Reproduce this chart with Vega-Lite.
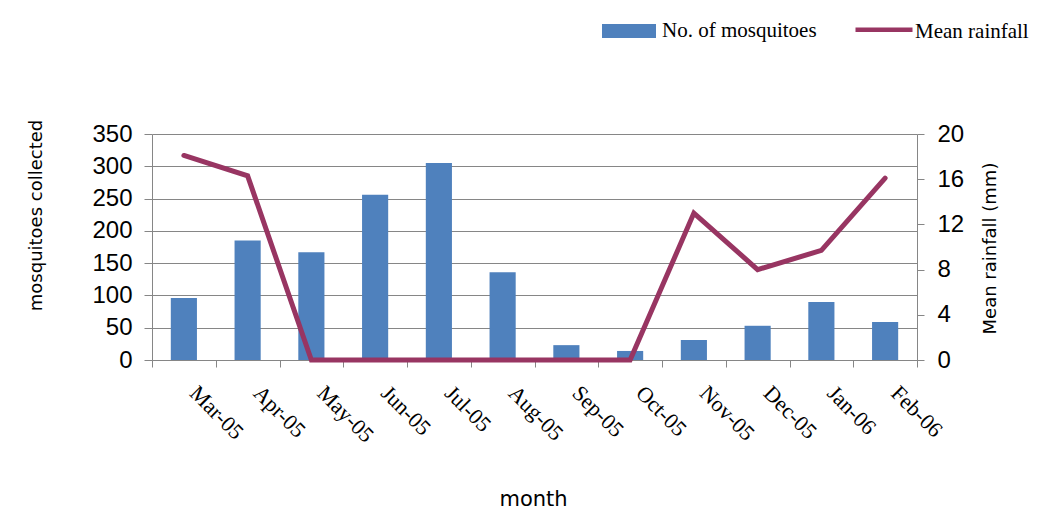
{
  "$schema": "https://vega.github.io/schema/vega-lite/v6.json",
  "width": 765,
  "height": 226,
  "autosize": {"type": "none"},
  "padding": {"left": 152, "top": 134, "right": 123, "bottom": 153},
  "background": "white",
  "config": {
    "view": {"stroke": null},
    "axis": {
      "domainColor": "#868686",
      "tickColor": "#868686",
      "gridColor": "#868686",
      "gridOpacity": 1,
      "domainWidth": 1,
      "tickWidth": 1,
      "labelOverlap": false,
      "labelColor": "black",
      "titleColor": "black",
      "titleFontWeight": "normal"
    }
  },
  "data": {
    "values": [
      {"month": "Mar-05", "mosquitoes": 96, "rainfall": 18.1},
      {"month": "Apr-05", "mosquitoes": 185, "rainfall": 16.3},
      {"month": "May-05", "mosquitoes": 167, "rainfall": 0},
      {"month": "Jun-05", "mosquitoes": 256, "rainfall": 0},
      {"month": "Jul-05", "mosquitoes": 305, "rainfall": 0},
      {"month": "Aug-05", "mosquitoes": 136, "rainfall": 0},
      {"month": "Sep-05", "mosquitoes": 23, "rainfall": 0},
      {"month": "Oct-05", "mosquitoes": 14, "rainfall": 0},
      {"month": "Nov-05", "mosquitoes": 31, "rainfall": 13.0},
      {"month": "Dec-05", "mosquitoes": 53, "rainfall": 8.0},
      {"month": "Jan-06", "mosquitoes": 90, "rainfall": 9.7},
      {"month": "Feb-06", "mosquitoes": 59, "rainfall": 16.1}
    ]
  },
  "encoding": {
    "x": {
      "field": "month",
      "type": "ordinal",
      "sort": null,
      "scale": {"paddingInner": 0, "paddingOuter": 0},
      "axis": {
        "title": "month",
        "tickBand": "extent",
        "tickSize": 7,
        "labelAngle": 45,
        "labelAlign": "left",
        "labelBaseline": "alphabetic",
        "labelPadding": 27,
        "labelOffset": 4,
        "labelFont": "Liberation Serif",
        "labelFontSize": 22,
        "titleFont": "DejaVu Sans",
        "titleFontSize": 21,
        "titleX": 381,
        "titleY": 145,
        "titleAlign": "center",
        "titleBaseline": "alphabetic"
      }
    }
  },
  "layer": [
    {
      "mark": {"type": "bar", "width": {"band": 0.41}},
      "encoding": {
        "y": {
          "field": "mosquitoes",
          "type": "quantitative",
          "scale": {"domain": [0, 350], "nice": false},
          "axis": {
            "title": "mosquitoes collected",
            "values": [0, 50, 100, 150, 200, 250, 300, 350],
            "grid": true,
            "tickSize": 8,
            "labelPadding": 12,
            "labelFont": "Liberation Sans",
            "labelFontSize": 24,
            "titleFont": "DejaVu Sans",
            "titleFontSize": 18,
            "titleX": -116,
            "titleY": 81,
            "titleAngle": -90,
            "titleAlign": "center",
            "titleBaseline": "middle"
          }
        },
        "fill": {
          "datum": "No. of mosquitoes",
          "type": "nominal",
          "scale": {"range": ["#4F81BD"]},
          "legend": {
            "orient": "none",
            "legendX": 450,
            "legendY": -130,
            "title": null,
            "padding": 0,
            "symbolType": "M-1,-0.26H1V0.26H-1Z",
            "symbolSize": 2916,
            "symbolStrokeWidth": 0,
            "labelFont": "Liberation Serif",
            "labelFontSize": 21,
            "labelColor": "black",
            "labelOffset": 6
          }
        }
      }
    },
    {
      "mark": {"type": "line", "strokeWidth": 5, "strokeCap": "round"},
      "encoding": {
        "y": {
          "field": "rainfall",
          "type": "quantitative",
          "scale": {"domain": [0, 20], "nice": false},
          "axis": {
            "orient": "right",
            "title": "Mean rainfall (mm)",
            "values": [0, 4, 8, 12, 16, 20],
            "grid": false,
            "tickSize": 7,
            "labelPadding": 13,
            "labelFont": "Liberation Sans",
            "labelFontSize": 24,
            "titleFont": "DejaVu Sans",
            "titleFontSize": 18,
            "titleX": 73,
            "titleY": 114,
            "titleAngle": -90,
            "titleAlign": "center",
            "titleBaseline": "middle"
          }
        },
        "stroke": {
          "datum": "Mean rainfall",
          "type": "nominal",
          "scale": {"range": ["#983562"]},
          "legend": {
            "orient": "none",
            "legendX": 701,
            "legendY": -133,
            "title": null,
            "padding": 0,
            "symbolType": "M-1,-0.08L1,-0.08",
            "symbolSize": 3249,
            "symbolStrokeWidth": 4.5,
            "labelFont": "Liberation Serif",
            "labelFontSize": 21,
            "labelColor": "black",
            "labelOffset": 0
          }
        }
      }
    }
  ],
  "resolve": {"scale": {"y": "independent", "fill": "independent", "stroke": "independent"}}
}
